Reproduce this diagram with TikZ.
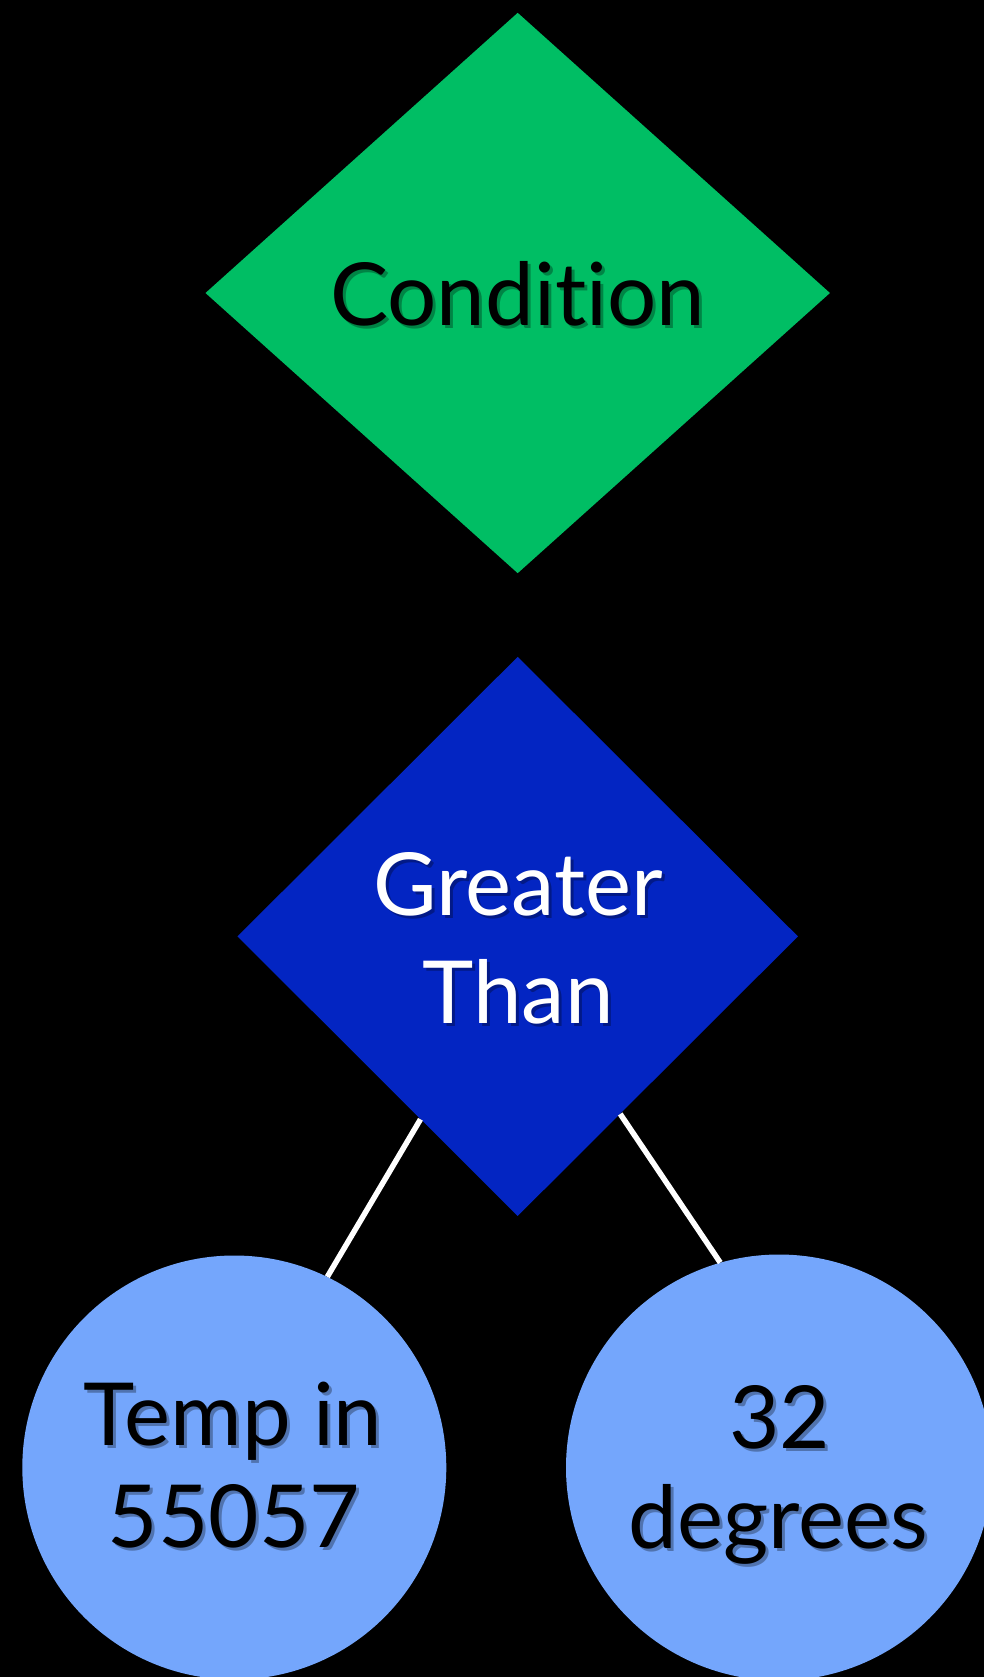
\documentclass[tikz,border=0pt]{standalone}
\usepackage{fontspec}
\setmainfont[Ligatures={NoCommon}]{Lato}
\usetikzlibrary{shapes.geometric}

\definecolor{condgreen}{RGB}{0,190,100}
\definecolor{opblue}{RGB}{3,37,194}
\definecolor{leafblue}{RGB}{116,166,252}

% one line of text with a soft drop shadow; #1 name, #2 position, #3 colour, #4 text
\newcommand\shadowline[4]{%
  \node[lbl, text=black, opacity=0.3, xshift=3pt, yshift=-3pt] at #2 {#4};
  \node[lbl, text=#3] (#1) at #2 {#4};
}

\tikzset{
  lbl/.style={anchor=base, inner sep=0pt, font=\fontsize{87}{104}\selectfont},
  shapebox/.style={draw=none, inner sep=0pt},
  link/.style={draw=white, line width=5.5pt}
}

\begin{document}
\begin{tikzpicture}[x=1pt, y=-1pt]
  \fill[black] (0,0) rectangle (984,1677);
  \useasboundingbox (0,0) rectangle (984,1677);

  % condition and operator diamonds
  \node[shapebox, diamond, fill=condgreen, minimum width=624.6pt, minimum height=560.5pt]
    (cond) at (517.7,293) {};
  \node[shapebox, diamond, fill=opblue, minimum width=560.6pt, minimum height=559.3pt]
    (gt) at (517.7,936.4) {};

  % operand circles
  \node[shapebox, circle, fill=leafblue, minimum size=424pt] (temp) at (234.3,1467.5) {};
  \node[shapebox, circle, fill=leafblue, minimum size=426pt] (deg) at (779,1467.5) {};

  % connectors from the operator to its operands
  \draw[link] (gt.-118.1) -- (temp.64);
  \draw[link] (gt.-60.3) -- (deg.106.1);

  % labels
  \shadowline{condtxt}{(517.7,325)}{black}{Condition}
  \shadowline{gttxta}{(518,915)}{white}{Greater}
  \shadowline{gttxtb}{(518,1023)}{white}{Than}
  \shadowline{temptxta}{(233,1445)}{black}{Temp in}
  \shadowline{temptxtb}{(234,1547)}{black}{55057}
  \shadowline{degtxta}{(779.5,1448)}{black}{32}
  \shadowline{degtxtb}{(778.5,1548)}{black}{degrees}
\end{tikzpicture}
\end{document}
